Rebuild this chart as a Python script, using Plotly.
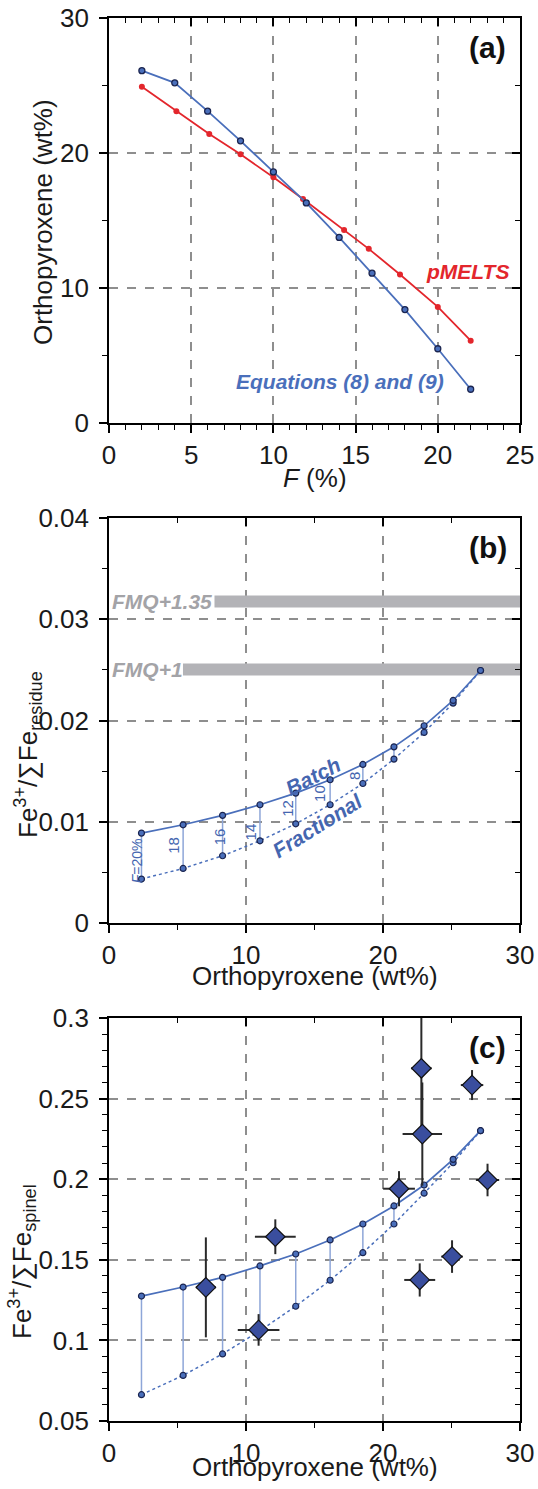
import plotly.graph_objects as go

# ---------------- data ----------------
# Panel (a): orthopyroxene vs melting degree F
F_eq = [2, 4, 6, 8, 10, 12, 14, 16, 18, 20, 22]
opx_eq = [26.1, 25.2, 23.1, 20.9, 18.6, 16.3, 13.75, 11.1, 8.4, 5.5, 2.5]
F_pm = [2, 4.1, 6.1, 8, 10, 11.8, 14.3, 15.8, 17.7, 20, 22]
opx_pm = [24.9, 23.1, 21.4, 19.9, 18.2, 16.6, 14.3, 12.9, 11.0, 8.6, 6.1]

# Panel (b): residue Fe3+/sumFe vs opx
opx_model = [2.37, 5.41, 8.29, 11.02, 13.63, 16.14, 18.53, 20.8, 23.0, 25.12, 27.12]
res_batch = [0.00888, 0.0097, 0.01063, 0.01168, 0.01283, 0.01415, 0.01566, 0.0174, 0.01948, 0.02198, 0.02494]
res_frac = [0.00434, 0.00539, 0.00664, 0.00812, 0.0098, 0.01168, 0.01378, 0.01619, 0.01882, 0.02172, 0.02494]
F_labels = ["<i>F</i>=20%", "18", "16", "14", "12", "10", "8"]
F_label_x = [2.05, 4.75, 8.05, 10.36, 12.97, 15.41, 17.92]
F_label_y = [0.0061, 0.00763, 0.00849, 0.00904, 0.01135, 0.01276, 0.01447]
fmq_names = ["FMQ+1.35", "FMQ+1"]
fmq_levels = [0.03175, 0.02504]
fmq_start = [7.7, 5.4]

# Panel (c): spinel Fe3+/sumFe vs opx
sp_batch = [0.1275, 0.1331, 0.1391, 0.1462, 0.1536, 0.1623, 0.1722, 0.1834, 0.1964, 0.2123, 0.2301]
sp_frac = [0.0663, 0.0783, 0.0916, 0.106, 0.1212, 0.1373, 0.1544, 0.1722, 0.1913, 0.2102, 0.2301]
obs_opx = [7.07, 12.14, 10.92, 22.68, 25.04, 22.8, 22.87, 26.5, 27.63, 21.17]
obs_opx_err = [0.73, 1.49, 1.52, 1.13, 0.79, 0.75, 1.44, 0.82, 0.85, 1.16]
obs_fe = [0.1329, 0.1643, 0.1065, 0.1375, 0.152, 0.2688, 0.228, 0.2584, 0.1995, 0.1941]
obs_fe_err = [0.031, 0.0108, 0.0098, 0.0103, 0.0101, 0.04, 0.032, 0.0093, 0.0101, 0.0109]

# ---------------- style ----------------
FONT = "Liberation Sans, Arial, sans-serif"
BLUE = "#4a6fbb"
BLUE_LIGHT = "#8ea6d8"
BLUE_TXT = "#4566b0"
RED = "#e3262c"
NAVY_EDGE = "#1b2550"
GRID = "#8e8e8e"
BAND = "#b3b3b7"
BAND_TXT = "#a3a3a7"

W, H = 538, 1489
XL, XR = 109, 520
panels = {  # top, bottom pixel
    "a": (18, 423),
    "b": (518, 923),
    "c": (1018, 1421),
}


def ydom(p):
    t, b = panels[p]
    return [1 - b / H, 1 - t / H]


xdom = [XL / W, XR / W]

fig = go.Figure()

# ---- panel (a)
fig.add_trace(go.Scatter(x=F_pm, y=opx_pm, mode="lines+markers", xaxis="x", yaxis="y",
                         line=dict(color=RED, width=1.8),
                         marker=dict(color=RED, size=6, line=dict(width=0))))
fig.add_trace(go.Scatter(x=F_eq, y=opx_eq, mode="lines+markers", xaxis="x", yaxis="y",
                         line=dict(color=BLUE, width=1.8),
                         marker=dict(color=BLUE, size=6, line=dict(color=NAVY_EDGE, width=1.3))))

# ---- panel (b)
for lvl, x0 in zip(fmq_levels, fmq_start):
    fig.add_trace(go.Scatter(x=[x0, 30], y=[lvl, lvl], mode="lines", xaxis="x2", yaxis="y2",
                             line=dict(color=BAND, width=12)))


def connectors(xs, ya, yb, n):
    cx, cy = [], []
    for i in range(n):
        cx += [xs[i], xs[i], None]
        cy += [ya[i], yb[i], None]
    return cx, cy


cx, cy = connectors(opx_model, res_batch, res_frac, 10)
fig.add_trace(go.Scatter(x=cx, y=cy, mode="lines", xaxis="x2", yaxis="y2",
                         line=dict(color=BLUE_LIGHT, width=1.5)))
fig.add_trace(go.Scatter(x=opx_model, y=res_frac, mode="lines+markers", xaxis="x2", yaxis="y2",
                         line=dict(color=BLUE, width=1.5, dash="dot"),
                         marker=dict(color=BLUE, size=6, line=dict(color=NAVY_EDGE, width=1.2))))
fig.add_trace(go.Scatter(x=opx_model, y=res_batch, mode="lines+markers", xaxis="x2", yaxis="y2",
                         line=dict(color=BLUE, width=1.7),
                         marker=dict(color=BLUE, size=6, line=dict(color=NAVY_EDGE, width=1.2))))

# ---- panel (c)
cx, cy = connectors(opx_model, sp_batch, sp_frac, 10)
fig.add_trace(go.Scatter(x=cx, y=cy, mode="lines", xaxis="x3", yaxis="y3",
                         line=dict(color=BLUE_LIGHT, width=1.5)))
fig.add_trace(go.Scatter(x=opx_model, y=sp_frac, mode="lines+markers", xaxis="x3", yaxis="y3",
                         line=dict(color=BLUE, width=1.5, dash="dot"),
                         marker=dict(color=BLUE, size=6, line=dict(color=NAVY_EDGE, width=1.2))))
fig.add_trace(go.Scatter(x=opx_model, y=sp_batch, mode="lines+markers", xaxis="x3", yaxis="y3",
                         line=dict(color=BLUE, width=1.7),
                         marker=dict(color=BLUE, size=6, line=dict(color=NAVY_EDGE, width=1.2))))
fig.add_trace(go.Scatter(x=obs_opx, y=obs_fe, mode="markers", xaxis="x3", yaxis="y3",
                         error_x=dict(type="data", array=obs_opx_err, color="#2a2a2a", thickness=2, width=0),
                         error_y=dict(type="data", array=obs_fe_err, color="#2a2a2a", thickness=2, width=0),
                         marker=dict(symbol="diamond", color="#3a4e9e", size=15,
                                     line=dict(color="#111111", width=1.2))))

# dummy traces to activate overlay axes (inward ticks on top/right)
for xa, ya in [("x4", "y"), ("x", "y4"), ("x5", "y2"), ("x2", "y5"), ("x6", "y3"), ("x3", "y6")]:
    fig.add_trace(go.Scatter(x=[None], y=[None], xaxis=xa, yaxis=ya, mode="markers",
                             hoverinfo="skip", showlegend=False))


def main_axis(rng, dtick, mdtick, dom, anchor, grid=True):
    return dict(range=rng, domain=dom, anchor=anchor, dtick=dtick, tick0=0, automargin=False,
                showline=True, linecolor="black", linewidth=1.6, mirror=True,
                ticks="outside", ticklen=8, tickwidth=1.5, tickcolor="black",
                minor=dict(dtick=mdtick, ticks="outside", ticklen=5, tickwidth=1.3,
                           tickcolor="black", showgrid=False),
                showgrid=grid, gridcolor=GRID, gridwidth=1.5, griddash="dash",
                zeroline=False, tickfont=dict(family=FONT, size=26, color="#1a1a1a"),
                fixedrange=True)


def overlay_axis(rng, dtick, mdtick, over, anchor, side):
    return dict(range=rng, overlaying=over, anchor=anchor, side=side, dtick=dtick, tick0=0,
                automargin=False,
                showline=False, ticks="inside", ticklen=8, tickwidth=1.5, tickcolor="black",
                minor=dict(dtick=mdtick, ticks="inside", ticklen=5, tickwidth=1.3,
                           tickcolor="black", showgrid=False),
                showgrid=False, zeroline=False, showticklabels=False, fixedrange=True)


layout = dict(
    width=W, height=H, margin=dict(l=0, r=0, t=0, b=0, pad=0, autoexpand=False),
    paper_bgcolor="white", plot_bgcolor="white", showlegend=False,
    font=dict(family=FONT, color="#1a1a1a"),
    xaxis=main_axis([0, 25], 5, 1, xdom, "y"),
    yaxis=main_axis([0, 30], 10, 5, ydom("a"), "x"),
    xaxis2=main_axis([0, 30], 10, 5, xdom, "y2"),
    yaxis2=main_axis([0, 0.04], 0.01, 0.005, ydom("b"), "x2"),
    xaxis3=main_axis([0, 30], 10, 5, xdom, "y3"),
    yaxis3=main_axis([0.05, 0.3], 0.05, 0.01, ydom("c"), "x3"),
    xaxis4=overlay_axis([0, 25], 5, 1, "x", "y", "top"),
    yaxis4=overlay_axis([0, 30], 10, 5, "y", "x", "right"),
    xaxis5=overlay_axis([0, 30], 10, 5, "x2", "y2", "top"),
    yaxis5=overlay_axis([0, 0.04], 0.01, 0.005, "y2", "x2", "right"),
    xaxis6=overlay_axis([0, 30], 10, 5, "x3", "y3", "top"),
    yaxis6=overlay_axis([0.05, 0.3], 0.05, 0.01, "y3", "x3", "right"),
)
for k in ("yaxis", "yaxis2", "yaxis3"):
    layout[k]["ticklabelstandoff"] = 5
fig.update_layout(layout)

ann = []
TXT = dict(family=FONT, size=26, color="#1a1a1a")


def px_to_paper_y(py):
    return 1 - py / H


# axis titles
ann.append(dict(text="<i>F</i> (%)", xref="paper", yref="paper", x=(XL + XR) / 2 / W,
                y=px_to_paper_y(478), xanchor="center", yanchor="middle", showarrow=False, font=TXT))
ann.append(dict(text="Orthopyroxene (wt%)", xref="paper", yref="paper", x=(XL + XR) / 2 / W,
                y=px_to_paper_y(976), xanchor="center", yanchor="middle", showarrow=False, font=TXT))
ann.append(dict(text="Orthopyroxene (wt%)", xref="paper", yref="paper", x=(XL + XR) / 2 / W,
                y=px_to_paper_y(1467), xanchor="center", yanchor="middle", showarrow=False, font=TXT))
ann.append(dict(text="Orthopyroxene (wt%)", xref="paper", yref="paper", x=43 / W,
                y=px_to_paper_y(222), xanchor="center", yanchor="middle", textangle=-90,
                showarrow=False, font=TXT))
ann.append(dict(text="Fe<sup>3+</sup>/∑Fe<sub>residue</sub>", xref="paper", yref="paper", x=28 / W,
                y=px_to_paper_y(755), xanchor="center", yanchor="middle", textangle=-90,
                showarrow=False, font=TXT))
ann.append(dict(text="Fe<sup>3+</sup>/∑Fe<sub>spinel</sub>", xref="paper", yref="paper", x=22 / W,
                y=px_to_paper_y(1262), xanchor="center", yanchor="middle", textangle=-90,
                showarrow=False, font=TXT))

# panel letters
for lab, xr, yr in [("(a)", "x domain", "y domain"), ("(b)", "x2 domain", "y2 domain"),
                    ("(c)", "x3 domain", "y3 domain")]:
    ann.append(dict(text="<b>" + lab + "</b>", xref=xr, yref=yr, x=0.922, y=0.927,
                    xanchor="center", yanchor="middle", showarrow=False,
                    font=dict(family=FONT, size=30, color="#111111")))

# series labels panel (a)
ann.append(dict(text="<b><i>pMELTS</i></b>", xref="x", yref="y", x=21.8, y=11.2,
                showarrow=False, bgcolor="white", borderpad=0,
                font=dict(family=FONT, size=21, color=RED)))
ann.append(dict(text="<b><i>Equations (8) and (9)</i></b>", xref="x", yref="y", x=14.06, y=3.04,
                showarrow=False, bgcolor="white", borderpad=0,
                font=dict(family=FONT, size=21, color=BLUE)))

# panel (b) labels
for name, lvl in zip(fmq_names, fmq_levels):
    ann.append(dict(text="<b><i>" + name + "</i></b>", xref="x2", yref="y2", x=0.1, y=lvl,
                    xanchor="left", yanchor="middle", showarrow=False,
                    font=dict(family=FONT, size=21, color=BAND_TXT)))
ann.append(dict(text="<b><i>Batch</i></b>", xref="x2", yref="y2", x=14.87, y=0.01447,
                textangle=-27, showarrow=False, font=dict(family=FONT, size=21, color=BLUE_TXT)))
ann.append(dict(text="<b><i>Fractional</i></b>", xref="x2", yref="y2", x=15.24, y=0.0096,
                textangle=-32, showarrow=False, font=dict(family=FONT, size=21, color=BLUE_TXT)))
for t, lx, ly in zip(F_labels, F_label_x, F_label_y):
    ann.append(dict(text=t, xref="x2", yref="y2", x=lx, y=ly, textangle=-90, showarrow=False,
                    font=dict(family=FONT, size=15 if len(t) < 4 else 14, color=BLUE_TXT)))

fig.update_layout(annotations=ann)
fig.write_html("out.html")
